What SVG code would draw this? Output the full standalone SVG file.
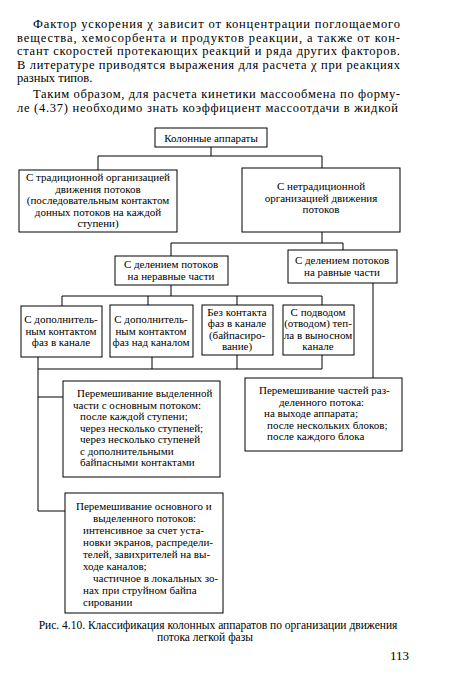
<svg xmlns="http://www.w3.org/2000/svg" width="450" height="699" viewBox="0 0 450 699">
<style>
.bg{fill:#fff}
.box{fill:#fff;stroke:#000;stroke-width:1}
.ln{fill:none;stroke:#000;stroke-width:1}
.p{font-family:"Liberation Serif","DejaVu Serif",serif;font-size:12.5px;fill:#000}
.t{font-family:"Liberation Serif","DejaVu Serif",serif;font-size:11px;fill:#000}
.c{text-anchor:middle}
.cap{font-family:"Liberation Serif","DejaVu Serif",serif;font-size:11.5px;fill:#000;text-anchor:middle}
.pg{font-family:"Liberation Serif","DejaVu Serif",serif;font-size:13px;fill:#000}
</style>
<rect class="bg" x="0" y="0" width="450" height="699"/>
<g id="paragraph">
<text class="p" x="33" y="28" textLength="367" lengthAdjust="spacing">Фактор ускорения χ зависит от концентрации поглощаемого</text>
<text class="p" x="17" y="41.5" textLength="383" lengthAdjust="spacing">вещества, хемосорбента и продуктов реакции, а также от кон-</text>
<text class="p" x="17" y="55" textLength="383" lengthAdjust="spacing">стант скоростей протекающих реакций и ряда других факторов.</text>
<text class="p" x="17" y="68.5" textLength="383" lengthAdjust="spacing">В литературе приводятся выражения для расчета χ при реакциях</text>
<text class="p" x="17" y="82">разных типов.</text>
<text class="p" x="33" y="98" textLength="367" lengthAdjust="spacing">Таким образом, для расчета кинетики массообмена по форму-</text>
<text class="p" x="17" y="111.5" textLength="381" lengthAdjust="spacing">ле (4.37) необходимо знать коэффициент массоотдачи в жидкой</text>
</g>
<g id="connectors">
<path class="ln" d="M211,147V156M98,170V156H322V168"/>
<path class="ln" d="M322,232V243M171,256V243H343V250"/>
<path class="ln" d="M171,285V296M62,306V296H322V305M148,296V305M237,296V305"/>
<path class="ln" d="M38,357V511H65M38,397H63M38,369H322V355M152,357V369M237,355V369"/>
<path class="ln" d="M373,283V378"/>
</g>
<g id="n-root">
<rect class="box" x="155" y="128" width="112" height="19"/>
<text class="t c" x="211" y="141.5">Колонные аппараты</text>
</g>
<g id="n-trad">
<rect class="box" x="19" y="170" width="158" height="62"/>
<text class="t c" x="98" y="181">С традиционной организацией</text>
<text class="t c" x="98" y="192.5">движения потоков</text>
<text class="t c" x="98" y="204">(последовательным контактом</text>
<text class="t c" x="98" y="215.5">донных потоков на каждой</text>
<text class="t c" x="98" y="227">ступени)</text>
</g>
<g id="n-nontrad">
<rect class="box" x="242" y="168" width="158" height="64"/>
<text class="t c" x="321" y="190">С нетрадиционной</text>
<text class="t c" x="321" y="201.5">организацией движения</text>
<text class="t c" x="321" y="213">потоков</text>
</g>
<g id="n-unequal">
<rect class="box" x="115" y="256" width="113" height="29"/>
<text class="t c" x="171" y="268">С делением потоков</text>
<text class="t c" x="171" y="279.5">на неравные части</text>
</g>
<g id="n-equal">
<rect class="box" x="288" y="250" width="109" height="33"/>
<text class="t c" x="342" y="264">С делением потоков</text>
<text class="t c" x="342" y="275.5">на равные части</text>
</g>
<g id="n-a">
<rect class="box" x="21" y="306" width="81" height="51"/>
<text class="t c" x="61" y="323">С дополнитель-</text>
<text class="t c" x="61" y="334.5">ным контактом</text>
<text class="t c" x="61" y="346">фаз в канале</text>
</g>
<g id="n-b">
<rect class="box" x="110" y="305" width="83" height="52"/>
<text class="t c" x="151" y="323">С дополнитель-</text>
<text class="t c" x="151" y="334.5">ным контактом</text>
<text class="t c" x="151" y="346">фаз над каналом</text>
</g>
<g id="n-c">
<rect class="box" x="202" y="305" width="71" height="50"/>
<text class="t c" x="237" y="316">Без контакта</text>
<text class="t c" x="237" y="327">фаз в канале</text>
<text class="t c" x="237" y="338.5">(байпасиро-</text>
<text class="t c" x="237" y="350">вание)</text>
</g>
<g id="n-d">
<rect class="box" x="283" y="305" width="71" height="50"/>
<text class="t c" x="318" y="316">С подводом</text>
<text class="t c" x="318" y="327">(отводом) теп-</text>
<text class="t c" x="318" y="338.5">ла в выносном</text>
<text class="t c" x="318" y="350">канале</text>
</g>
<g id="n-p1">
<rect class="box" x="63" y="381" width="157" height="96"/>
<text class="t" x="77" y="397">Перемешивание выделенной</text>
<text class="t" x="73" y="408.5">части с основным потоком:</text>
<text class="t" x="80" y="420">после каждой ступени;</text>
<text class="t" x="80" y="431.5">через несколько ступеней;</text>
<text class="t" x="80" y="443">через несколько ступеней</text>
<text class="t" x="80" y="454.5">с дополнительными</text>
<text class="t" x="80" y="466">байпасными контактами</text>
</g>
<g id="n-p2">
<rect class="box" x="65" y="493" width="158" height="120"/>
<text class="t" x="76" y="510">Перемешивание основного и</text>
<text class="t" x="93" y="522">выделенного потоков:</text>
<text class="t" x="83" y="534">интенсивное за счет уста-</text>
<text class="t" x="83" y="546">новки экранов, распредели-</text>
<text class="t" x="83" y="558">телей, завихрителей на вы-</text>
<text class="t" x="83" y="570">ходе каналов;</text>
<text class="t" x="93" y="582">частичное в локальных зо-</text>
<text class="t" x="83" y="594">нах при струйном байпа</text>
<text class="t" x="83" y="606">сировании</text>
</g>
<g id="n-p3">
<rect class="box" x="245" y="378" width="157" height="73"/>
<text class="t" x="259" y="394">Перемешивание частей раз-</text>
<text class="t" x="279" y="405.5">деленного потока:</text>
<text class="t" x="264" y="417">на выходе аппарата;</text>
<text class="t" x="267" y="428.5">после нескольких блоков;</text>
<text class="t" x="267" y="440">после каждого блока</text>
</g>
<g id="caption">
<text class="cap" x="218" y="629">Рис. 4.10. Классификация колонных аппаратов по организации движения</text>
<text class="cap" x="205" y="641">потока легкой фазы</text>
<text class="pg" x="390" y="660">113</text>
</g>
</svg>
